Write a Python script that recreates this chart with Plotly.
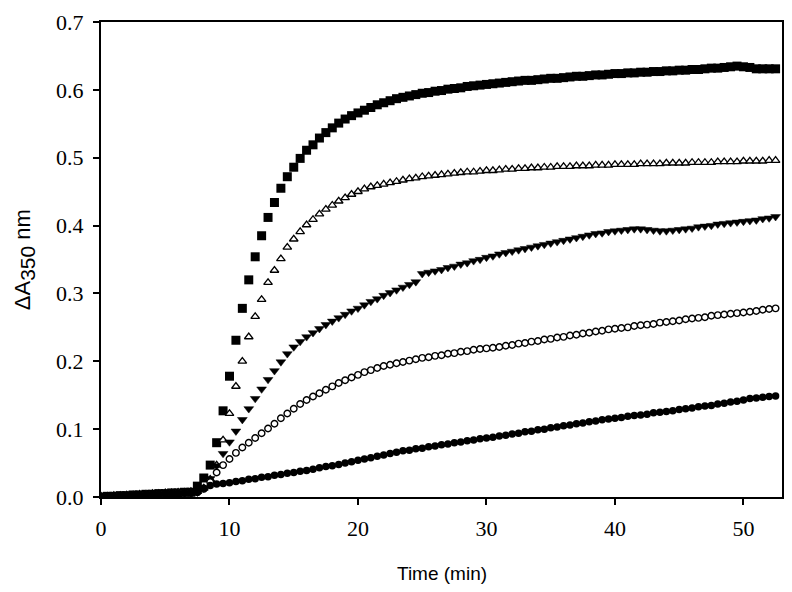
import plotly.graph_objects as go

time_min = [
    0.0, 0.5, 1.0, 1.5, 2.0, 2.5, 3.0, 3.5, 4.0, 4.5,
    5.0, 5.5, 6.0, 6.5, 7.0, 7.5, 8.0, 8.5, 9.0, 9.5,
    10.0, 10.5, 11.0, 11.5, 12.0, 12.5, 13.0, 13.5, 14.0, 14.5,
    15.0, 15.5, 16.0, 16.5, 17.0, 17.5, 18.0, 18.5, 19.0, 19.5,
    20.0, 20.5, 21.0, 21.5, 22.0, 22.5, 23.0, 23.5, 24.0, 24.5,
    25.0, 25.5, 26.0, 26.5, 27.0, 27.5, 28.0, 28.5, 29.0, 29.5,
    30.0, 30.5, 31.0, 31.5, 32.0, 32.5, 33.0, 33.5, 34.0, 34.5,
    35.0, 35.5, 36.0, 36.5, 37.0, 37.5, 38.0, 38.5, 39.0, 39.5,
    40.0, 40.5, 41.0, 41.5, 42.0, 42.5, 43.0, 43.5, 44.0, 44.5,
    45.0, 45.5, 46.0, 46.5, 47.0, 47.5, 48.0, 48.5, 49.0, 49.5,
    50.0, 50.5, 51.0, 51.5, 52.0, 52.5,
]

filled_squares = [
    0.000, 0.001, 0.001, 0.002, 0.002, 0.003, 0.003, 0.004, 0.004, 0.005,
    0.005, 0.006, 0.006, 0.007, 0.007, 0.016, 0.028, 0.047, 0.080, 0.127,
    0.178, 0.231, 0.278, 0.320, 0.354, 0.385, 0.412, 0.434, 0.455, 0.472,
    0.486, 0.499, 0.511, 0.519, 0.529, 0.537, 0.544, 0.551, 0.557, 0.562,
    0.566, 0.570, 0.574, 0.578, 0.581, 0.584, 0.587, 0.589, 0.591, 0.593,
    0.595, 0.596, 0.598, 0.599, 0.601, 0.602, 0.603, 0.605, 0.606, 0.607,
    0.608, 0.609, 0.610, 0.611, 0.612, 0.613, 0.614, 0.614, 0.615, 0.616,
    0.617, 0.617, 0.618, 0.619, 0.620, 0.620, 0.621, 0.622, 0.622, 0.623,
    0.624, 0.624, 0.625, 0.625, 0.626, 0.626, 0.627, 0.627, 0.628, 0.628,
    0.629, 0.629, 0.630, 0.630, 0.631, 0.632, 0.632, 0.633, 0.634, 0.635,
    0.634, 0.633, 0.631, 0.631, 0.631, 0.631,
]

open_triangles = [
    0.001, 0.001, 0.002, 0.002, 0.003, 0.003, 0.004, 0.004, 0.005, 0.005,
    0.006, 0.006, 0.007, 0.007, 0.008, 0.008, 0.013, 0.026, 0.047, 0.084,
    0.123, 0.163, 0.200, 0.236, 0.266, 0.291, 0.316, 0.334, 0.351, 0.368,
    0.380, 0.391, 0.401, 0.409, 0.417, 0.424, 0.430, 0.436, 0.441, 0.446,
    0.450, 0.454, 0.457, 0.459, 0.461, 0.463, 0.465, 0.467, 0.469, 0.470,
    0.472, 0.473, 0.474, 0.475, 0.476, 0.477, 0.478, 0.479, 0.479, 0.480,
    0.481, 0.481, 0.482, 0.483, 0.483, 0.484, 0.484, 0.485, 0.485, 0.486,
    0.486, 0.487, 0.487, 0.487, 0.488, 0.488, 0.488, 0.489, 0.489, 0.489,
    0.490, 0.490, 0.490, 0.490, 0.491, 0.491, 0.491, 0.491, 0.492, 0.492,
    0.492, 0.492, 0.493, 0.493, 0.493, 0.493, 0.494, 0.494, 0.494, 0.494,
    0.495, 0.495, 0.495, 0.495, 0.496, 0.496,
]

filled_down_triangles = [
    0.000, 0.001, 0.001, 0.002, 0.002, 0.003, 0.003, 0.003, 0.004, 0.004,
    0.005, 0.005, 0.006, 0.006, 0.007, 0.007, 0.013, 0.027, 0.046, 0.064,
    0.081, 0.097, 0.114, 0.130, 0.145, 0.159, 0.173, 0.186, 0.199, 0.211,
    0.221, 0.229, 0.236, 0.242, 0.248, 0.254, 0.259, 0.264, 0.269, 0.274,
    0.278, 0.283, 0.288, 0.292, 0.297, 0.301, 0.305, 0.309, 0.313, 0.317,
    0.329, 0.331, 0.333, 0.335, 0.338, 0.340, 0.343, 0.345, 0.348, 0.350,
    0.353, 0.355, 0.358, 0.360, 0.362, 0.364, 0.366, 0.368, 0.370, 0.372,
    0.374, 0.376, 0.378, 0.380, 0.382, 0.384, 0.386, 0.388, 0.389, 0.391,
    0.392, 0.393, 0.394, 0.395, 0.395, 0.394, 0.393, 0.392, 0.392, 0.393,
    0.394, 0.395, 0.396, 0.398, 0.399, 0.400, 0.402, 0.403, 0.404, 0.405,
    0.406, 0.407, 0.408, 0.410, 0.411, 0.413,
]

open_circles = [
    0.000, 0.000, 0.001, 0.001, 0.002, 0.002, 0.003, 0.003, 0.004, 0.004,
    0.004, 0.005, 0.005, 0.006, 0.006, 0.007, 0.012, 0.022, 0.036, 0.047,
    0.056, 0.065, 0.073, 0.080, 0.087, 0.094, 0.101, 0.108, 0.116, 0.123,
    0.130, 0.137, 0.143, 0.148, 0.153, 0.158, 0.163, 0.168, 0.172, 0.176,
    0.180, 0.184, 0.187, 0.190, 0.193, 0.195, 0.197, 0.199, 0.201, 0.203,
    0.205, 0.206, 0.208, 0.209, 0.211, 0.212, 0.214, 0.215, 0.217, 0.218,
    0.219, 0.220, 0.221, 0.223, 0.224, 0.226, 0.227, 0.229, 0.230, 0.232,
    0.233, 0.235, 0.236, 0.238, 0.239, 0.241, 0.242, 0.244, 0.245, 0.247,
    0.248, 0.249, 0.250, 0.252, 0.253, 0.254, 0.255, 0.257, 0.258, 0.259,
    0.260, 0.262, 0.263, 0.264, 0.265, 0.267, 0.268, 0.269, 0.270, 0.271,
    0.272, 0.273, 0.274, 0.276, 0.277, 0.278,
]

filled_circles = [
    0.000, 0.001, 0.001, 0.002, 0.002, 0.002, 0.003, 0.003, 0.004, 0.004,
    0.005, 0.005, 0.005, 0.006, 0.006, 0.007, 0.013, 0.017, 0.019, 0.020,
    0.021, 0.023, 0.024, 0.026, 0.027, 0.029, 0.030, 0.032, 0.033, 0.035,
    0.036, 0.038, 0.039, 0.041, 0.043, 0.045, 0.046, 0.048, 0.050, 0.052,
    0.054, 0.056, 0.058, 0.060, 0.062, 0.064, 0.066, 0.068, 0.069, 0.071,
    0.072, 0.074, 0.075, 0.077, 0.078, 0.080, 0.081, 0.083, 0.084, 0.086,
    0.087, 0.088, 0.090, 0.091, 0.093, 0.094, 0.096, 0.097, 0.099, 0.100,
    0.102, 0.103, 0.105, 0.106, 0.108, 0.109, 0.111, 0.112, 0.114, 0.115,
    0.116, 0.117, 0.119, 0.120, 0.121, 0.122, 0.124, 0.125, 0.126, 0.127,
    0.129, 0.130, 0.131, 0.133, 0.134, 0.135, 0.137, 0.138, 0.140, 0.141,
    0.143, 0.145, 0.146, 0.147, 0.148, 0.149,
]

x_ticks = [0, 10, 20, 30, 40, 50]
y_ticks = [0.0, 0.1, 0.2, 0.3, 0.4, 0.5, 0.6, 0.7]
x_title = "Time (min)"
y_title = 'ΔA<sub><span style="font-size:21px">350</span></sub> nm'

series = [
    ("filled squares", filled_squares, dict(symbol="square", size=9, color="black", line=dict(width=0))),
    ("open triangles", open_triangles, dict(symbol="triangle-up", size=7.5, color="white", line=dict(width=1.3, color="black"))),
    ("filled down triangles", filled_down_triangles, dict(symbol="triangle-down", size=8.5, color="black", line=dict(width=0.5, color="black"))),
    ("open circles", open_circles, dict(symbol="circle", size=6.5, color="white", line=dict(width=1.4, color="black"))),
    ("filled circles", filled_circles, dict(symbol="circle", size=7.5, color="black", line=dict(width=0))),
]

fig = go.Figure()
for name, vals, mk in series:
    fig.add_trace(go.Scatter(x=time_min, y=vals, mode="markers", name=name, marker=mk))

serif = "Liberation Serif, Times New Roman, DejaVu Serif, serif"
sans = "Liberation Sans, Arial, sans-serif"

axis_common = dict(
    showgrid=False, zeroline=False, showline=True, linecolor="black", linewidth=2,
    mirror=True, ticks="outside", ticklen=6, tickwidth=1.5, tickcolor="black",
    automargin=False,
    tickfont=dict(family=serif, size=22, color="black"),
)

# The page body has an 8px default margin, so the figure is sized and offset to
# fill the 792x592 window exactly.
fig.update_layout(
    template="none",
    width=776, height=576,
    margin=dict(l=93, r=2, t=14, b=87),
    plot_bgcolor="white", paper_bgcolor="white",
    showlegend=False,
    xaxis=dict(range=[0, 53], tickvals=x_ticks, ticklabelstandoff=5, **axis_common),
    yaxis=dict(range=[0, 0.7], tickvals=y_ticks, tickformat=".1f", ticklabelstandoff=5, **axis_common),
    annotations=[
        dict(text=x_title, xref="paper", yref="paper", x=0.5, y=-0.16,
             xanchor="center", yanchor="middle", showarrow=False,
             font=dict(family=sans, size=19, color="black")),
        dict(text=y_title, xref="paper", yref="paper", x=-0.112, y=0.5,
             xanchor="center", yanchor="middle", textangle=-90, showarrow=False,
             font=dict(family=sans, size=22, color="black")),
    ],
)

fig.write_html("out.html")
